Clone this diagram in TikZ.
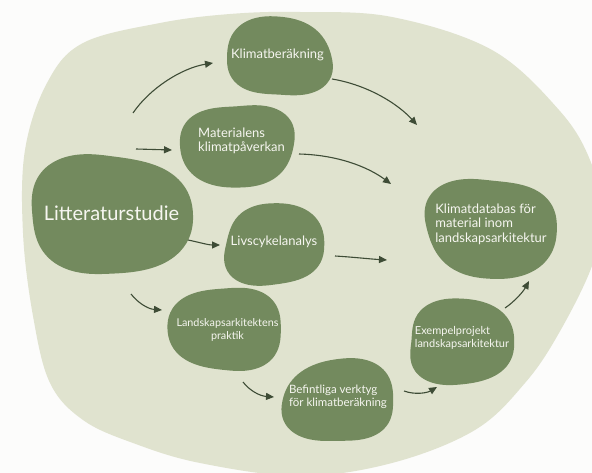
\documentclass[tikz,border=0pt]{standalone}
\usepackage{fontspec}
\setmainfont{Lato}
\usetikzlibrary{arrows.meta}

\definecolor{paper}{HTML}{FCFCFB}
\definecolor{field}{HTML}{E0E3CF}
\definecolor{leaf}{HTML}{738A5E}
\definecolor{ink}{HTML}{3E4C36}
\definecolor{labeltext}{HTML}{F6F6F0}

\tikzset{
  stage/.style={text=labeltext, inner sep=0pt, font=\fontsize{13}{14.5}\selectfont},
  smallstage/.style={stage, font=\fontsize{11.5}{13.5}\selectfont},
  flow/.style={draw=ink, line width=1.1pt, -{Triangle[length=8pt,width=7pt]}},
}

% rounded, slightly irregular blob: centre, radii, and two wobble terms
\newcommand\organic[8]{%
  \fill[leaf] plot[domain=0:355, samples=72, smooth cycle, variable=\t]
    ({#1+#3*sq(\t)*(1+#5*sin(2*\t+#6)+#7*sin(3*\t+#8))*cos(\t)},
     {#2+#4*sq(\t)*(1+#5*sin(2*\t+#6)+#7*sin(3*\t+#8))*sin(\t)});}

\begin{document}
\begin{tikzpicture}[x=1pt, y=-1pt,
  declare function={sq(\t)=(abs(cos(\t))^2.5+abs(sin(\t))^2.5)^(-0.4);}]
  \useasboundingbox (0,0) rectangle (592,473);
  \fill[paper] (0,0) rectangle (592,473);

  % large background field
  \begin{scope}
    \clip (0,0) rectangle (592,473);
    \fill[field] plot[smooth cycle, tension=0.6] coordinates {
      (300,12) (392,17) (492,50) (559,110) (590,160) (602,215) (592,266)
      (559,333) (525,383) (475,430) (392,463) (300,476) (200,463)
      (133,443) (83,420) (50,383) (33,316) (23,233) (25,150) (47,83)
      (83,43) (160,23) (230,14)};
  \end{scope}

  % blobs
  \organic{279}{57}{51}{40}{0.05}{30}{0.035}{10}
  \organic{237.5}{145.5}{54.5}{42.5}{0.05}{120}{0.035}{200}
  \organic{110}{214.5}{77}{61.5}{0.05}{60}{0.035}{100}
  \organic{274}{245}{50}{40}{0.05}{200}{0.035}{40}
  \organic{226}{329}{54}{43}{0.05}{80}{0.035}{260}
  \organic{339}{401}{54}{42}{0.05}{150}{0.035}{320}
  \organic{461}{342}{54}{41}{0.05}{250}{0.035}{70}
  \organic{491}{228}{64}{50}{0.05}{20}{0.035}{160}

  % labels
  \node[stage] (klim) at (277.5,55) {Klimatberäkning};
  \node[stage, align=left] (mat) at (241.5,141) {Materialens\\klimatpåverkan};
  \node[stage, font=\fontsize{20}{22}\selectfont] (lit) at (111.5,213) {Litteraturstudie};
  \node[stage] (liv) at (274,242) {Livscykelanalys};
  \node[stage, align=left] (db) at (491,224) {Klimatdatabas för\\material inom\\landskapsarkitektur};
  \node[smallstage, font=\fontsize{10.8}{13}\selectfont, align=center] (land) at (227.5,330) {Landskapsarkitektens\\praktik};
  \node[smallstage, align=left] (bef) at (338,397) {Befintliga verktyg\\för klimatberäkning};
  \node[smallstage, font=\fontsize{11}{13.5}\selectfont, align=left] (exem) at (462,338) {Exempelprojekt\\landskapsarkitektur};

  % connector end points
  \coordinate (a1s) at (133,113); \coordinate (a1e) at (213,63);
  \coordinate (a2s) at (136,149); \coordinate (a2e) at (172,150);
  \coordinate (a3s) at (332,79);  \coordinate (a3e) at (417,125);
  \coordinate (a4s) at (299,154); \coordinate (a4e) at (391,184);
  \coordinate (a5s) at (188,240); \coordinate (a5e) at (220,245);
  \coordinate (a6s) at (131,294); \coordinate (a6e) at (162,310);
  \coordinate (a7s) at (243,382); \coordinate (a7e) at (274,397);
  \coordinate (a8s) at (335,256); \coordinate (a8e) at (387,260);
  \coordinate (a9s) at (505,308); \coordinate (a9e) at (529,281);
  \coordinate (a10s) at (404,391); \coordinate (a10e) at (437,387);

  % connectors
  \draw[flow] (a1s) .. controls (150,88) and (182,68) .. (a1e);
  \draw[flow] (a2s) -- (a2e);
  \draw[flow] (a3s) .. controls (368,85) and (398,104) .. (a3e);
  \draw[flow] (a4s) .. controls (338,155) and (368,167) .. (a4e);
  \draw[flow] (a5s) .. controls (198,242) and (208,245) .. (a5e);
  \draw[flow] (a6s) .. controls (138,303) and (148,309) .. (a6e);
  \draw[flow] (a7s) .. controls (250,391) and (260,396) .. (a7e);
  \draw[flow] (a8s) .. controls (352,257) and (370,259) .. (a8e);
  \draw[flow] (a9s) .. controls (514,302) and (523,292) .. (a9e);
  \draw[flow] (a10s) .. controls (415,395) and (427,393) .. (a10e);
\end{tikzpicture}
\end{document}
